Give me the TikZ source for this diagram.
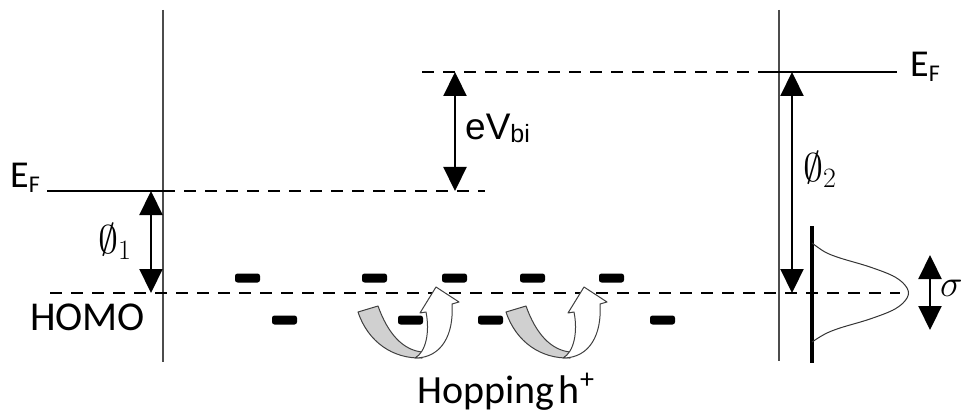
\documentclass[tikz,border=0pt]{standalone}
\usepackage{fix-cm}
\usepackage{fontspec}
\setmainfont{Carlito}
\newfontfamily\arialfont{Liberation Sans}
\usetikzlibrary{arrows.meta}

\definecolor{hopgray}{HTML}{D0D0D0}
\definecolor{hopedge}{HTML}{404040}

\tikzset{
  solidlevel/.style={line width=1.1pt, black},
  dashlevel/.style={line width=1.4pt, black, dash pattern=on 12pt off 9pt},
  wall/.style={line width=1.5pt, black!70},
  gap/.style={line width=2.2pt,
    {Triangle[width=23pt,length=24pt]}-{Triangle[width=23pt,length=24pt]}},
  lbl/.style={inner sep=0pt, anchor=base west},
  trap/.style={fill=black, rounded corners=2.5pt, minimum width=25pt,
    minimum height=9pt, inner sep=0pt},
  hopline/.style={line width=1pt, draw=hopedge, line join=round},
  hop/.pic={
    % shaded underside of the curved arrow
    \draw[hopline, fill=hopgray] (0,0) -- (20,-6)
      .. controls (30,22) and (45,38) .. (64,40) -- (64,46)
      .. controls (35,47) and (10,30) .. (0,0) -- cycle;
    % rising part with its head
    \draw[hopline, fill=white] (57,46)
      .. controls (68,40) and (72,20) .. (68,0) -- (62,1) -- (78,-25)
      -- (101,-10) -- (94,-8)
      .. controls (96,22) and (84,46) .. (57,46) -- cycle;
  }
}

\begin{document}
\begin{tikzpicture}[x=1pt,y=-1pt]
\useasboundingbox (0,0) rectangle (963,414);

% end points of the energy levels
\coordinate (efL0) at (47,191);
\coordinate (efL1) at (163,191);
\coordinate (efL2) at (485,191);
\coordinate (homo0) at (50,293);
\coordinate (homo1) at (900,293);
\coordinate (efR0) at (422,72);
\coordinate (efR1) at (779,72);
\coordinate (efR1a) at (768,72);
\coordinate (efR2) at (897,72);

% contact walls
\coordinate (wallLt) at (163,10);
\coordinate (wallLb) at (163,362);
\coordinate (wallRt) at (779,10);
\coordinate (wallRb) at (779,361);
\coordinate (dosT) at (812,226);
\coordinate (dosB) at (812,363);

\draw[wall] (wallLt) -- (wallLb);
\draw[wall] (wallRt) -- (wallRb);
\draw[line width=3.5pt] (dosT) -- (dosB);

% Fermi levels and HOMO
\draw[solidlevel] (efL0) -- (efL1);
\draw[dashlevel] (efL1) -- (efL2);
\draw[dashlevel] (efR0) -- (efR1);
\draw[solidlevel] (efR1a) -- (efR2);
\draw[dashlevel] (homo0) -- (homo1);

% Gaussian density of states
\draw[line width=1pt, black!80] plot[smooth, tension=0.6] coordinates {
  (812,243) (825,252) (840,258) (870,267) (895,277) (907,288) (907,298)
  (895,309) (870,319) (840,328) (825,334) (812,342)};

% energy gaps
\coordinate (p1t) at (151,191);
\coordinate (p1b) at (151,293);
\coordinate (vbt) at (455,72);
\coordinate (vbb) at (455,191);
\coordinate (p2t) at (792,72);
\coordinate (p2b) at (792,293);
\coordinate (st) at (930,255);
\coordinate (sb) at (930,330);
\draw[gap] (p1t) -- (p1b);
\draw[gap] (vbt) -- (vbb);
\draw[gap] (p2t) -- (p2b);
\draw[gap] (st) -- (sb);

% localized states
\node[trap] (u1) at (247.5,278) {};
\node[trap] (u2) at (374.5,278) {};
\node[trap] (u3) at (454.5,278) {};
\node[trap] (u4) at (532.5,278) {};
\node[trap] (u5) at (611.5,278) {};
\node[trap] (d1) at (284.5,320) {};
\node[trap] (d2) at (410.5,320) {};
\node[trap] (d3) at (490.5,320) {};
\node[trap] (d4) at (662.5,320) {};

% hopping arrows
\pic at (358,312) {hop};
\pic at (506,312) {hop};

% labels
\node[lbl, font=\fontsize{38}{40}\selectfont] (efLlab) at (10,188)
  {E\raisebox{-5pt}{\fontsize{24}{26}\selectfont F}};
\node[lbl, font=\fontsize{38}{40}\selectfont] (efRlab) at (910,77)
  {E\raisebox{-5pt}{\fontsize{24}{26}\selectfont F}};
\node[lbl, font=\fontsize{41}{44}\selectfont] (homolab) at (30,330) {HOMO};
\node[lbl, font=\fontsize{40}{44}\selectfont] (p1lab) at (98,253) {$\emptyset_1$};
\node[lbl, font=\fontsize{40}{44}\selectfont] (p2lab) at (803,182) {$\emptyset_2$};
\node[lbl, font=\arialfont\fontsize{37}{40}\selectfont] (vblab) at (465,140)
  {eV\raisebox{-3pt}{\fontsize{25}{28}\selectfont bi}};
\node[lbl, font=\fontsize{38}{42}\selectfont] (slab) at (940,296) {$\sigma$};
\node[lbl, font=\fontsize{40}{44}\selectfont] (hoplab) at (417,403)
  {Hopping\hspace{0.12em}h\textsuperscript{+}};
\end{tikzpicture}
\end{document}
